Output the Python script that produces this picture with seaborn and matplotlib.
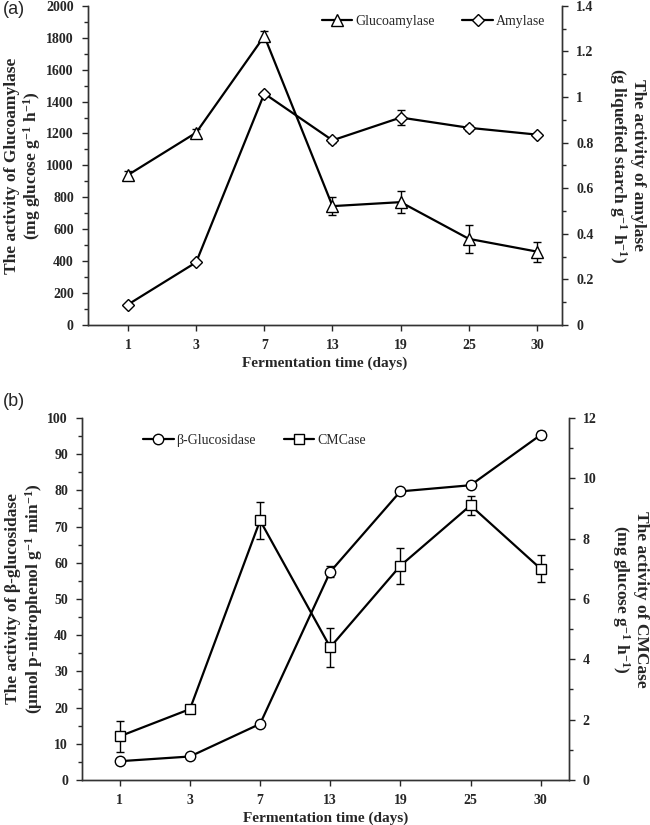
import numpy as np
import pandas as pd
import matplotlib
matplotlib.use("Agg")
import matplotlib.pyplot as plt
from matplotlib.ticker import MultipleLocator
import seaborn as sns

days = ["1", "3", "7", "13", "19", "25", "30"]
glucoamylase = [940, 1205, 1810, 745, 770, 540, 460]
glucoamylase_err = [25, 20, 30, 55, 67, 86, 63]
amylase = [0.09, 0.275, 1.015, 0.81, 0.91, 0.865, 0.835]
amylase_err = [0.004, 0.005, 0.006, 0.01, 0.033, 0.012, 0.008]
glucosidase = [5.2, 6.5, 15.5, 57.5, 79.7, 81.4, 95.3]
glucosidase_err = [0.3, 0.3, 0.5, 1.5, 0.5, 0.5, 1.0]
cmcase = [1.45, 2.35, 8.6, 4.4, 7.1, 9.1, 7.0]
cmcase_err = [0.52, 0.1, 0.6, 0.65, 0.6, 0.32, 0.44]

sns.set_style("ticks")
plt.rcParams["font.family"] = ["Liberation Serif", "DejaVu Serif"]
plt.rcParams["mathtext.default"] = "regular"

df = pd.DataFrame({"pos": np.arange(len(days)), "day": days,
                   "glucoamylase": glucoamylase, "amylase": amylase,
                   "glucosidase": glucosidase, "cmcase": cmcase})

fig = plt.figure(figsize=(6.5, 8.25), dpi=100)
ax_a = fig.add_axes([0.135, 0.606, 0.730, 0.387])
ax_b = fig.add_axes([0.126, 0.0545, 0.749, 0.439])

tick_font = dict(fontsize=10, fontweight="bold")
lab_font = dict(fontsize=11, fontweight="bold")
ylab_font = dict(fontsize=12.5, fontweight="bold", linespacing=1.1)


def draw(ax, col, err, marker, ms, label):
    sns.lineplot(data=df, x="pos", y=col, ax=ax, color="black", linewidth=1.6,
                 marker=marker, markersize=ms, markerfacecolor="white",
                 markeredgecolor="black", markeredgewidth=1.0, label=label,
                 legend=False, zorder=3)
    ax.errorbar(df["pos"], df[col], yerr=err, fmt="none", ecolor="black",
                elinewidth=1.0, capsize=3, capthick=1.0, zorder=2)


def style(ax, xlim):
    ax.set_xlim(*xlim)
    ax.spines["top"].set_visible(False)
    for s in ax.spines.values():
        s.set_linewidth(1.0)
        s.set_color("#333333")
    ax.tick_params(axis="both", which="major", direction="out", length=4,
                   width=1.0, pad=6)
    ax.tick_params(axis="y", which="minor", direction="out", length=3, width=1.0)
    for t in ax.get_yticklabels():
        t.set_fontweight("bold")
        t.set_fontsize(10)


leg_kw = dict(ncol=2, frameon=False, fontsize=10, handlelength=2.2,
              handletextpad=0.2, columnspacing=2.0)

# ---- panel (a)
ax2a = ax_a.twinx()
draw(ax_a, "glucoamylase", glucoamylase_err, "^", 8, "Glucoamylase")
draw(ax2a, "amylase", amylase_err, "D", 6, "Amylase")
ax_a.set_ylim(0, 2000)
ax_a.yaxis.set_major_locator(MultipleLocator(200))
ax_a.yaxis.set_minor_locator(MultipleLocator(100))
ax2a.set_ylim(0, 1.4)
ax2a.set_yticks(np.arange(0, 1.41, 0.2))
ax2a.set_yticklabels(["0", "0.2", "0.4", "0.6", "0.8", "1", "1.2", "1.4"])
ax2a.yaxis.set_minor_locator(MultipleLocator(0.1))
for ax in (ax_a, ax2a):
    style(ax, (-0.59, 6.37))
ax_a.set_xticks(df["pos"])
ax_a.set_xticklabels(days, **tick_font)
ax_a.set_xlabel("Fermentation time (days)", labelpad=3, **lab_font)
ax_a.set_ylabel("The activity of Glucoamylase\n(mg glucose g$^{-1}$ h$^{-1}$)",
                labelpad=2, **ylab_font)
ax2a.set_ylabel("The activity of amylase\n(g liquefied starch g$^{-1}$ h$^{-1}$)",
                rotation=270, labelpad=38, **ylab_font)
h = [ax_a.lines[0], ax2a.lines[0]]
ax_a.legend(h, ["Glucoamylase", "Amylase"], loc="upper right",
            bbox_to_anchor=(0.99, 1.01), **leg_kw)

# ---- panel (b)
ax2b = ax_b.twinx()
draw(ax_b, "glucosidase", glucosidase_err, "o", 7.5, "β-Glucosidase")
draw(ax2b, "cmcase", cmcase_err, "s", 7.5, "CMCase")
ax_b.set_ylim(0, 100)
ax_b.yaxis.set_major_locator(MultipleLocator(10))
ax_b.yaxis.set_minor_locator(MultipleLocator(5))
ax2b.set_ylim(0, 12)
ax2b.yaxis.set_major_locator(MultipleLocator(2))
ax2b.yaxis.set_minor_locator(MultipleLocator(1))
for ax in (ax_b, ax2b):
    style(ax, (-0.54, 6.40))
ax_b.set_xticks(df["pos"])
ax_b.set_xticklabels(days, **tick_font)
ax_b.set_xlabel("Fermentation time (days)", labelpad=3, **lab_font)
ax_b.set_ylabel("The activity of β-glucosidase\n(μmol p-nitrophenol g$^{-1}$ min$^{-1}$)",
                labelpad=2, **ylab_font)
ax2b.set_ylabel("The activity of CMCase\n(mg glucose g$^{-1}$ h$^{-1}$)",
                rotation=270, labelpad=38, **ylab_font)
h = [ax_b.lines[0], ax2b.lines[0]]
ax_b.legend(h, ["β-Glucosidase", "CMCase"], loc="upper left",
            bbox_to_anchor=(0.1, 0.99), **leg_kw)

fig.text(0.005, 0.999, "(a)", fontsize=13, family="Liberation Sans", va="top")
fig.text(0.005, 0.524, "(b)", fontsize=13, family="Liberation Sans", va="top")

fig.savefig("out.png", dpi=100)
